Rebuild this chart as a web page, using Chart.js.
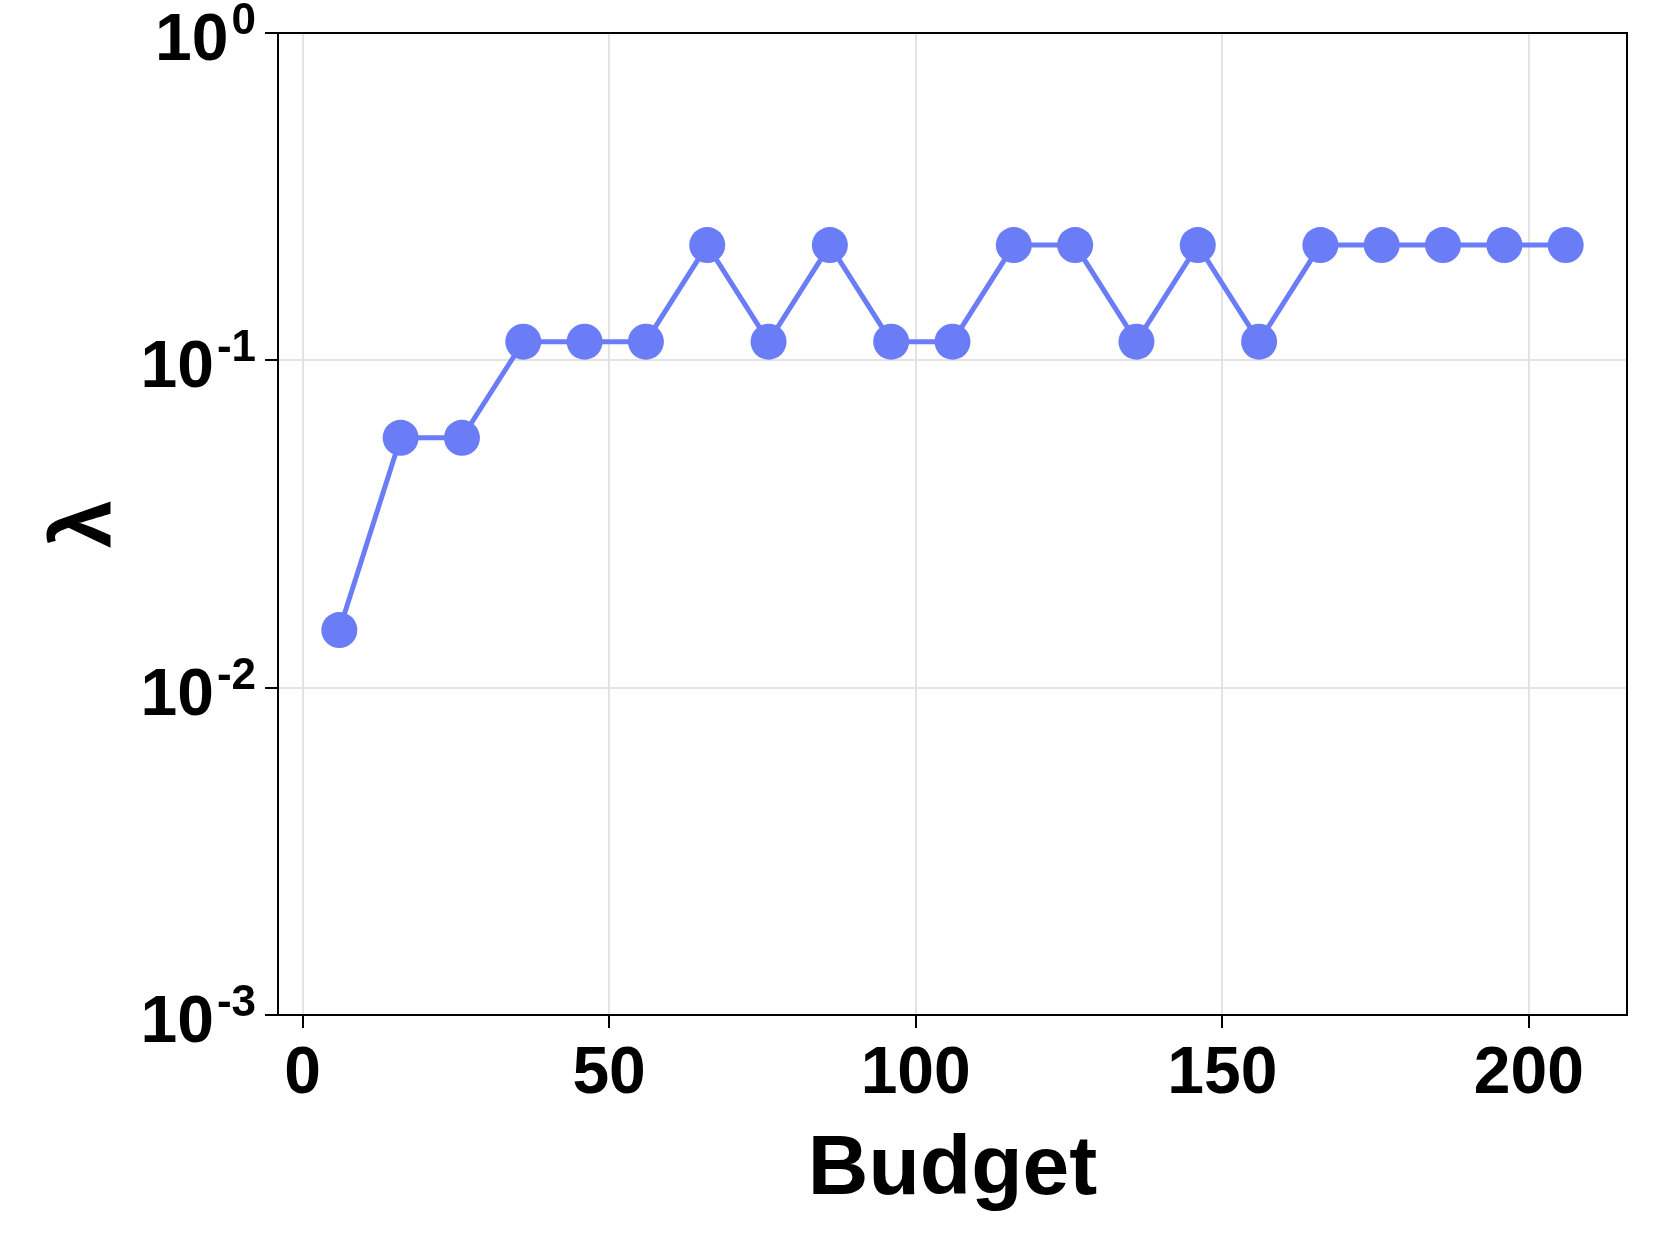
<!DOCTYPE html>
<html lang="en">
<head>
    <meta charset="UTF-8">
    <title>Lambda vs Budget</title>
    <script src="https://cdn.jsdelivr.net/npm/chart.js"></script>
</head>
<body style="margin: 0; background: white;">
    <div style="width: 1661px; height: 1246px;">
        <canvas id="chart" width="1661" height="1246"></canvas>
    </div>

    <script>
        // Donnees
        const budgets = [6, 16, 26, 36, 46, 56, 66, 76, 86, 96, 106, 116, 126, 136, 146, 156, 166, 176, 186, 196, 206];
        const lambdas = [0.015, 0.058, 0.058, 0.114, 0.114, 0.114, 0.225, 0.114, 0.225, 0.114, 0.114,
                         0.225, 0.225, 0.114, 0.225, 0.114, 0.225, 0.225, 0.225, 0.225, 0.225];
        const xTicks = [0, 50, 100, 150, 200];
        const yTicks = [0.001, 0.01, 0.1, 1];
        const yTickBase = '10';
        const yTickExponents = ['-3', '-2', '-1', '0'];

        const FONT = '"Liberation Sans", Arial, sans-serif';

        // cadre complet autour de la zone de tracé + étiquettes 10^n
        const framePlugin = {
            id: 'frame',
            afterDraw(chart) {
                const ctx = chart.ctx;
                const a = chart.chartArea;
                ctx.save();
                ctx.strokeStyle = '#000';
                ctx.lineWidth = 2;
                ctx.strokeRect(a.left, a.top, a.right - a.left, a.bottom - a.top);

                const y = chart.scales.y;
                ctx.fillStyle = '#000';
                ctx.textAlign = 'left';
                ctx.textBaseline = 'alphabetic';
                yTicks.forEach((v, i) => {
                    const py = y.getPixelForValue(v);
                    ctx.font = 'bold 66px ' + FONT;
                    const mainW = ctx.measureText(yTickBase).width;
                    ctx.font = 'bold 44px ' + FONT;
                    const supW = ctx.measureText(yTickExponents[i]).width;
                    const x0 = 256 - mainW - supW - 3;
                    ctx.font = 'bold 66px ' + FONT;
                    ctx.fillText(yTickBase, x0, py + 27);
                    ctx.font = 'bold 44px ' + FONT;
                    ctx.fillText(yTickExponents[i], x0 + mainW + 3, py + 1);
                });
                ctx.restore();
            }
        };

        new Chart(document.getElementById('chart'), {
            type: 'line',
            data: {
                datasets: [{
                    data: budgets.map((b, i) => ({ x: b, y: lambdas[i] })),
                    borderColor: '#6b7cf7',
                    backgroundColor: '#6b7cf7',
                    borderWidth: 5,
                    pointRadius: 18,
                    pointHoverRadius: 18,
                    pointBorderWidth: 0,
                    tension: 0,
                    clip: false
                }]
            },
            options: {
                responsive: false,
                animation: false,
                layout: { padding: { top: 33, right: 34, left: 0, bottom: 0 } },
                plugins: {
                    legend: { display: false },
                    tooltip: { enabled: false }
                },
                scales: {
                    x: {
                        type: 'linear',
                        min: -4,
                        max: 216,
                        afterBuildTicks: s => { s.ticks = xTicks.map(v => ({ value: v })); },
                        afterFit: s => { s.height = 231; },
                        grid: {
                            color: '#e2e2e2',
                            lineWidth: 2,
                            tickColor: '#000',
                            tickLength: 13
                        },
                        border: { color: '#000', width: 2 },
                        ticks: {
                            color: '#000',
                            padding: 7,
                            maxRotation: 0,
                            font: { family: FONT, size: 66, weight: 'bold' }
                        },
                        title: {
                            display: true,
                            text: 'Budget',
                            color: '#000',
                            padding: { top: 0, bottom: 25 },
                            font: { family: FONT, size: 84, weight: 'bold' }
                        }
                    },
                    y: {
                        type: 'logarithmic',
                        min: 0.001,
                        max: 1,
                        afterBuildTicks: s => { s.ticks = yTicks.map(v => ({ value: v })); },
                        afterFit: s => { s.width = 278; },
                        grid: {
                            color: '#e2e2e2',
                            lineWidth: 2,
                            tickColor: '#000',
                            tickLength: 13
                        },
                        border: { color: '#000', width: 2 },
                        ticks: { display: false },
                        title: {
                            display: true,
                            text: 'λ',
                            color: '#000',
                            padding: { top: 36, bottom: 0 },
                            font: { family: FONT, size: 86, weight: 'bold' }
                        }
                    }
                }
            },
            plugins: [framePlugin]
        });
    </script>
</body>
</html>
